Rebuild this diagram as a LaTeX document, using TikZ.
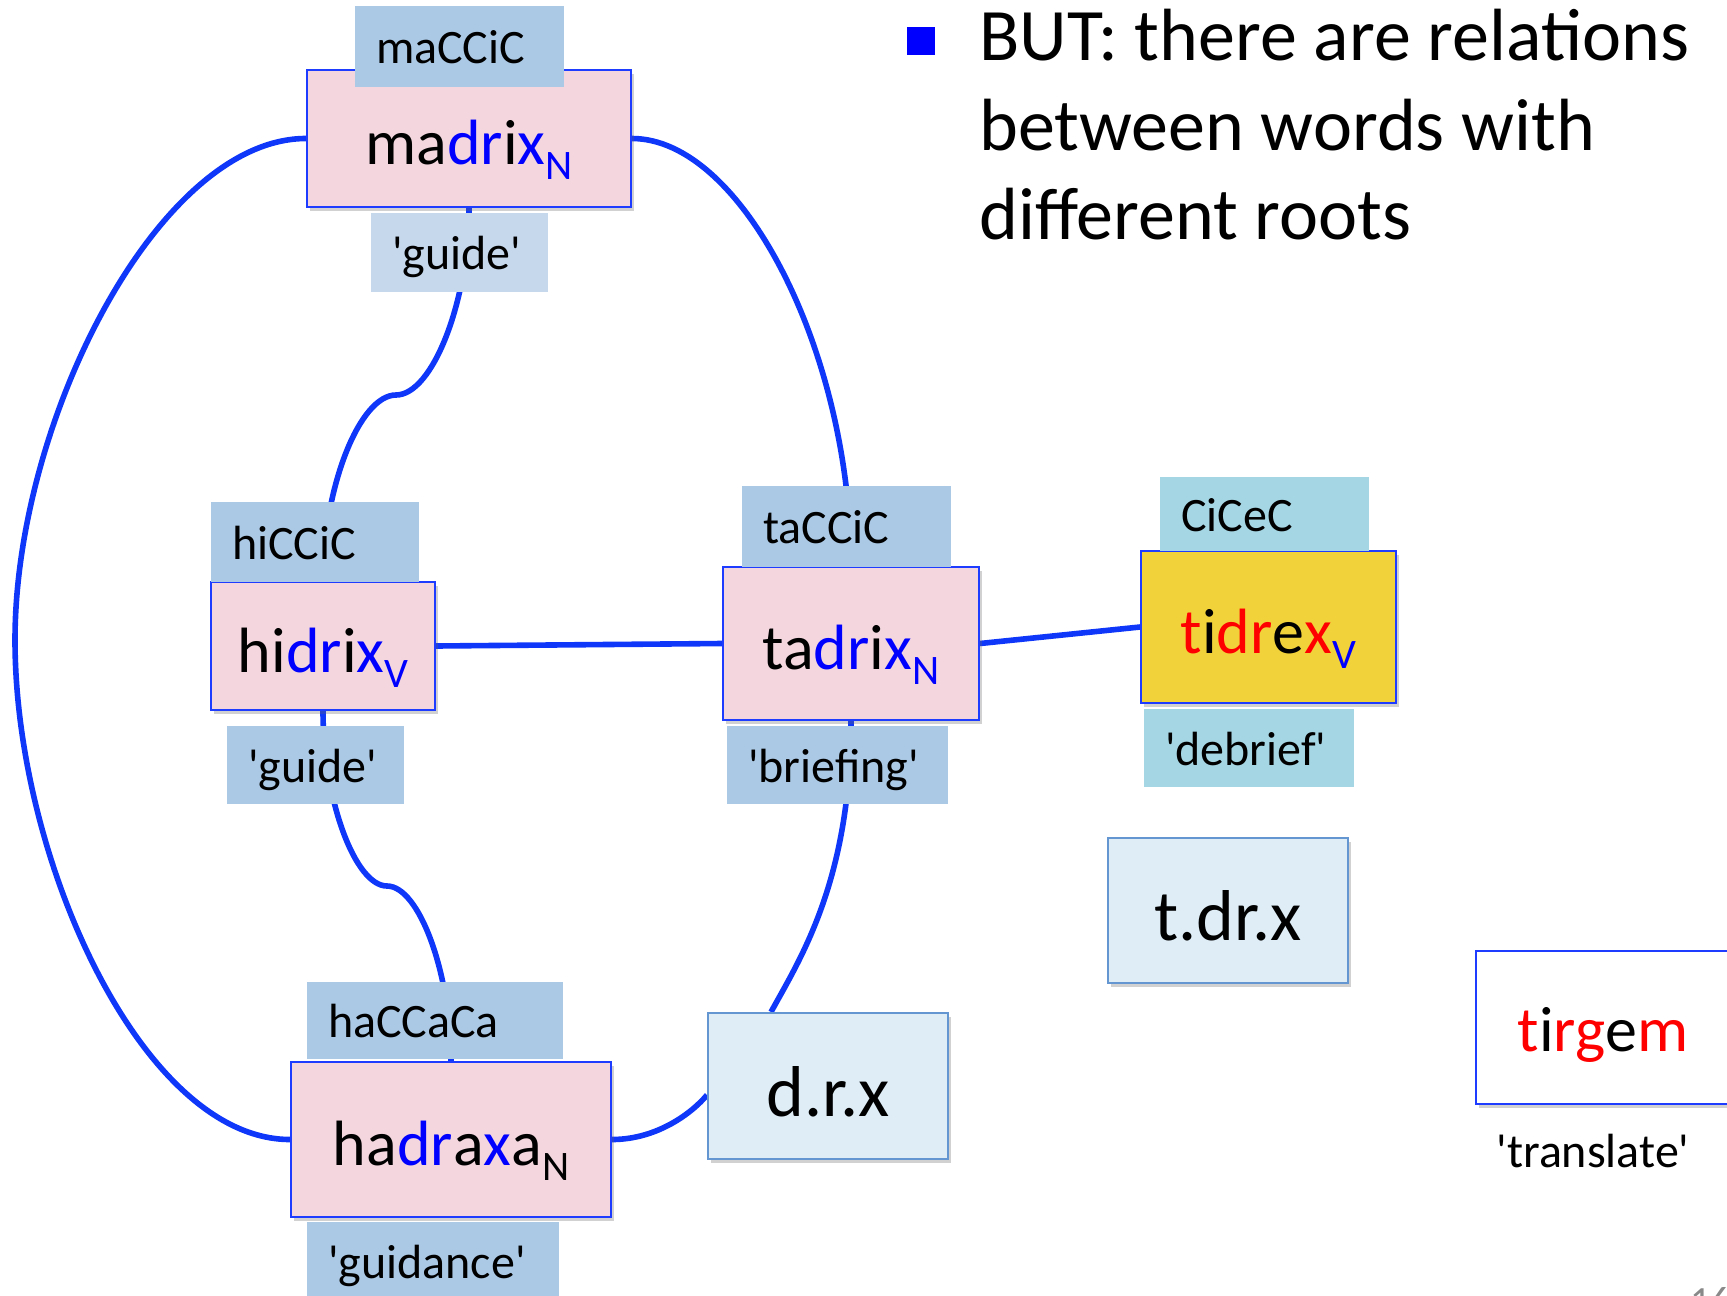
\documentclass[tikz,border=0pt]{standalone}
\usepackage{fontspec}
\setmainfont{Carlito}
\usetikzlibrary{shadows}
\definecolor{linkblue}{RGB}{15,55,250}
\definecolor{nodeblue}{RGB}{30,60,255}
\definecolor{pinkfill}{RGB}{243,214,222}
\definecolor{lblue}{RGB}{171,201,229}
\definecolor{lblueA}{RGB}{197,216,236}
\definecolor{teal}{RGB}{165,214,227}
\definecolor{yellowfill}{RGB}{242,210,58}
\definecolor{rootfill}{RGB}{222,237,246}
\definecolor{rootdraw}{RGB}{100,150,210}
\definecolor{pagegray}{RGB}{137,137,137}
\newcommand\wblue[1]{\textcolor{blue}{#1}}
\newcommand\wred[1]{\textcolor{red}{#1}}
\newcommand\wsub[1]{\raisebox{-7.5pt}{\fontsize{21}{21}\selectfont #1}}
\newcommand\sq{\textquotesingle}
\pgfdeclarelayer{bg}
\pgfsetlayers{bg,main}
\tikzset{
  shad/.style={drop shadow={shadow xshift=1.5pt,shadow yshift=-2pt,opacity=.3,fill=black!60}},
  word/.style={draw=nodeblue,line width=1pt,fill=pinkfill,shad,inner sep=0pt,
    text height=26pt,text depth=0pt,font=\fontsize{32}{38}\selectfont},
  rootbox/.style={draw=rootdraw,line width=1pt,fill=rootfill,shad,inner sep=0pt,
    text height=30pt,text depth=0pt,font=\fontsize{36}{43}\selectfont},
  lbl/.style={fill=lblue,inner xsep=10.5pt,inner ysep=0pt,text height=17pt,text depth=0pt,
    align=left,font=\fontsize{24}{28}\selectfont},
  link/.style={draw=linkblue,line width=2.8pt},
  headline/.style={anchor=base west,inner sep=0pt,font=\fontsize{37}{44.5}\selectfont}
}
\begin{document}
\begin{tikzpicture}[x=0.5pt,y=-0.5pt]
\useasboundingbox (0,0) rectangle (1727,1295);

% word nodes
\node[word,minimum width=162pt,minimum height=68.5pt] (madrix) at (469,138.5) {ma\wblue{dr}i\wblue{x}\wsub{\wblue{N}}};
\node[word,minimum width=112pt,minimum height=64pt] (hidrix) at (323,646) {hi\wblue{dr}i\wblue{x}\wsub{\wblue{V}}};
\node[word,minimum width=128pt,minimum height=76.5pt] (tadrix) at (851,643.5) {ta\wblue{dr}i\wblue{x}\wsub{\wblue{N}}};
\node[word,fill=yellowfill,minimum width=127.5pt,minimum height=76pt] (tidrex) at (1268.5,627) {\wred{t}i\wred{dr}e\wred{x}\wsub{\wblue{V}}};
\node[word,minimum width=160pt,minimum height=77.5pt] (hadraxa) at (451,1139.5) {ha\wblue{dr}a\wblue{x}a\wsub{N}};
\node[word,fill=white,text height=24pt,minimum width=127pt,minimum height=76.5pt] (tirgem) at (1603,1027.5) {\wred{t}i\wred{rg}e\wred{m}};

% root boxes
\node[rootbox,minimum width=120pt,minimum height=73pt] (drx) at (828,1086) {d.r.x};
\node[rootbox,minimum width=120pt,minimum height=72.5pt] (tdrx) at (1228,910.5) {t.dr.x};

% labels
\node[lbl,text width=83.5pt,minimum height=40.5pt] (maCCiC) at (459.5,46.5) {maCCiC};
\node[lbl,fill=lblueA,text width=67.5pt,minimum height=39.5pt] (guideA) at (459.5,252.5) {\sq guide\sq};
\node[lbl,text width=83pt,minimum height=40pt] (hiCCiC) at (315,542) {hiCCiC};
\node[lbl,text width=67.5pt,minimum height=39pt] (guideB) at (315.5,765) {\sq guide\sq};
\node[lbl,text width=83.5pt,minimum height=40.5pt] (taCCiC) at (846.5,526.5) {taCCiC};
\node[lbl,text width=89.5pt,minimum height=39pt] (briefing) at (837.5,765) {\sq briefing\sq};
\node[lbl,fill=teal,text width=83.5pt,minimum height=37pt] (CiCeC) at (1264.5,514) {CiCeC};
\node[lbl,fill=teal,text width=84pt,minimum height=39pt] (debrief) at (1249,748) {\sq debrief\sq};
\node[lbl,text width=107pt,minimum height=38.5pt] (haCCaCa) at (435,1020.5) {haCCaCa};
\node[lbl,text width=105pt,minimum height=39pt] (guidance) at (433,1261) {\sq guidance\sq};
\node[anchor=base,inner sep=0pt,font=\fontsize{24}{28}\selectfont] (translate) at (1593,1167) {\sq translate\sq};

% heading
\node[fill=blue,inner sep=0pt,minimum size=14pt] (bullet) at (921,41) {};
\node[headline] (l1) at (979,61) {BUT: there are relations};
\node[headline] (l2) at (979,150) {between words with};
\node[headline] (l3) at (979,239) {different roots};

% page number
\node[anchor=north west,inner sep=0pt,text=pagegray,font=\fontsize{20}{24}\selectfont] (pageno) at (1690,1287) {16};

% connectors
\coordinate (leftmid) at (15,640);
\coordinate (m1) at (396,395);
\coordinate (m2) at (387,886);
\begin{pgfonlayer}{bg}
\draw[link] (madrix.west) .. controls +(-147,0) and +(0,-220) .. (leftmid)
  .. controls +(0,220) and +(-147,0) .. (hadraxa.west);
\draw[link] (madrix.east) .. controls +(110,0) and +(0,-214) .. (tadrix.north);
\draw[link] (madrix.south) .. controls +(0,93) and +(36.5,0) .. (m1)
  .. controls +(-36.5,0) and +(0,-93) .. (hidrix.north);
\draw[link] (hidrix.south) .. controls +(0,88) and +(-32,0) .. (m2)
  .. controls +(32,0) and +(0,-88) .. (hadraxa.north);
\draw[link] (hidrix.east) -- (tadrix.west);
\draw[link] (tadrix.east) -- (tidrex.west);
\draw[link] (tadrix.south) .. controls +(0,160) and +(29,-53) .. ([xshift=-28.5pt]drx.north);
\draw[link] (hadraxa.east) .. controls +(45,0) and +(-15,18) .. ([yshift=-4.5pt]drx.west);
\end{pgfonlayer}
\end{tikzpicture}
\end{document}
